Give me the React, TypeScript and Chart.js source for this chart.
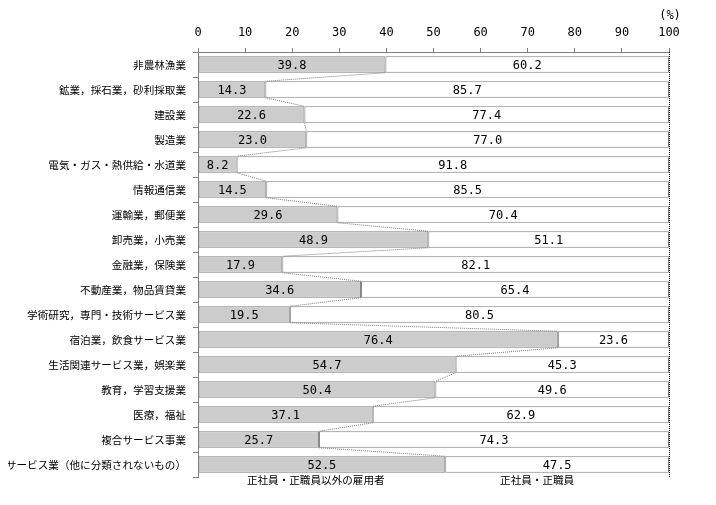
import React, { useEffect, useRef } from "react";
import { Chart, registerables } from "chart.js";

Chart.register(...registerables);

const categories = [
  "非農林漁業",
  "鉱業，採石業，砂利採取業",
  "建設業",
  "製造業",
  "電気・ガス・熱供給・水道業",
  "情報通信業",
  "運輸業，郵便業",
  "卸売業，小売業",
  "金融業，保険業",
  "不動産業，物品賃貸業",
  "学術研究，専門・技術サービス業",
  "宿泊業，飲食サービス業",
  "生活関連サービス業，娯楽業",
  "教育，学習支援業",
  "医療，福祉",
  "複合サービス事業",
  "サービス業（他に分類されないもの）",
];

const nonRegular = [39.8, 14.3, 22.6, 23.0, 8.2, 14.5, 29.6, 48.9, 17.9, 34.6, 19.5, 76.4, 54.7, 50.4, 37.1, 25.7, 52.5];
const regular = [60.2, 85.7, 77.4, 77.0, 91.8, 85.5, 70.4, 51.1, 82.1, 65.4, 80.5, 23.6, 45.3, 49.6, 62.9, 74.3, 47.5];

const seriesNames = ["正社員・正職員以外の雇用者", "正社員・正職員"];
const unitLabel = "(%)";

const MONO = "'DejaVu Sans Mono', 'Liberation Mono', monospace";
const JP = "'Noto Sans CJK JP', sans-serif";

const decorPlugin = {
  id: "decor",
  beforeDatasetsDraw(chart: any) {
    const { ctx, chartArea, scales } = chart;
    const x100 = scales.x.getPixelForValue(100);
    ctx.save();
    ctx.strokeStyle = "#000";
    ctx.lineWidth = 1;
    ctx.setLineDash([1, 1]);
    ctx.beginPath();
    ctx.moveTo(Math.round(x100) + 0.5, chartArea.top);
    ctx.lineTo(Math.round(x100) + 0.5, chartArea.bottom);
    ctx.stroke();
    ctx.restore();
  },
  afterDatasetsDraw(chart: any) {
    const { ctx, chartArea, scales } = chart;
    const m0 = chart.getDatasetMeta(0).data;
    const m1 = chart.getDatasetMeta(1).data;
    // connector lines
    ctx.save();
    ctx.strokeStyle = "#7a7a7a";
    ctx.lineWidth = 1;
    ctx.setLineDash([1, 1]);
    for (let i = 0; i < m0.length - 1; i++) {
      const a = m0[i].getProps(["x", "y", "height"], true);
      const b = m0[i + 1].getProps(["x", "y", "height"], true);
      ctx.beginPath();
      ctx.moveTo(a.x, a.y + a.height / 2);
      ctx.lineTo(b.x, b.y - b.height / 2);
      ctx.stroke();
    }
    ctx.restore();
    // value labels
    ctx.save();
    ctx.fillStyle = "#000";
    ctx.font = "12px " + MONO;
    ctx.textAlign = "center";
    ctx.textBaseline = "middle";
    const drawVals = (meta: any[], vals: number[]) => {
      meta.forEach((el: any, i: number) => {
        const p = el.getProps(["x", "y", "base"], true);
        ctx.fillText(vals[i].toFixed(1), (p.x + p.base) / 2, p.y + 1);
      });
    };
    drawVals(m0, nonRegular);
    drawVals(m1, regular);
    // unit
    ctx.font = "12px " + MONO;
    ctx.textAlign = "center";
    ctx.fillText(unitLabel, scales.x.getPixelForValue(100) + 1, 8);
    // bottom series labels
    ctx.font = "10.6px " + JP;
    ctx.textBaseline = "middle";
    ctx.fillText(seriesNames[0], scales.x.getPixelForValue(25), chartArea.bottom + 3);
    ctx.fillText(seriesNames[1], scales.x.getPixelForValue(72), chartArea.bottom + 3);
    ctx.restore();
  },
};

export default function App() {
  const ref = useRef<HTMLCanvasElement>(null);
  useEffect(() => {
    if (!ref.current) return;
    const chart = new Chart(ref.current, {
      type: "bar",
      data: {
        labels: categories,
        datasets: [
          {
            label: seriesNames[0],
            data: nonRegular,
            backgroundColor: "#cccccc",
            borderColor: "#7f7f7f",
            borderWidth: 1,
            borderSkipped: false,
            categoryPercentage: 1,
            barPercentage: 0.66,
          },
          {
            label: seriesNames[1],
            data: regular,
            backgroundColor: "#ffffff",
            borderColor: "#7f7f7f",
            borderWidth: 1,
            borderSkipped: false,
            categoryPercentage: 1,
            barPercentage: 0.66,
          },
        ],
      },
      options: {
        indexAxis: "y",
        responsive: false,
        animation: false,
        devicePixelRatio: 1,
        layout: { padding: { left: 0, right: 39, top: 0, bottom: 20 } },
        plugins: {
          legend: { display: false },
          tooltip: { enabled: false },
          title: { display: false },
        },
        scales: {
          x: {
            position: "top",
            stacked: true,
            min: 0,
            max: 100,
            ticks: {
              stepSize: 10,
              color: "#000",
              font: { family: MONO, size: 12 },
              padding: 8,
            },
            grid: {
              drawOnChartArea: false,
              drawTicks: true,
              tickLength: 4,
              color: "#808080",
            },
            border: { display: true, color: "#808080" },
            afterFit(scale: any) {
              scale.height = 44;
            },
          },
          y: {
            stacked: true,
            offset: true,
            ticks: {
              color: "#000",
              font: { family: JP, size: 10.6 },
              padding: 7,
              autoSkip: false,
            },
            grid: {
              offset: true,
              drawOnChartArea: false,
              drawTicks: true,
              tickLength: 5,
              color: "#808080",
            },
            border: { display: true, color: "#808080" },
            afterFit(scale: any) {
              scale.width = 190;
            },
          },
        },
      },
      plugins: [decorPlugin],
    } as any);
    return () => chart.destroy();
  }, []);
  return <canvas ref={ref} width={700} height={489} style={{ display: "block", width: 700, height: 489 }} />;
}
